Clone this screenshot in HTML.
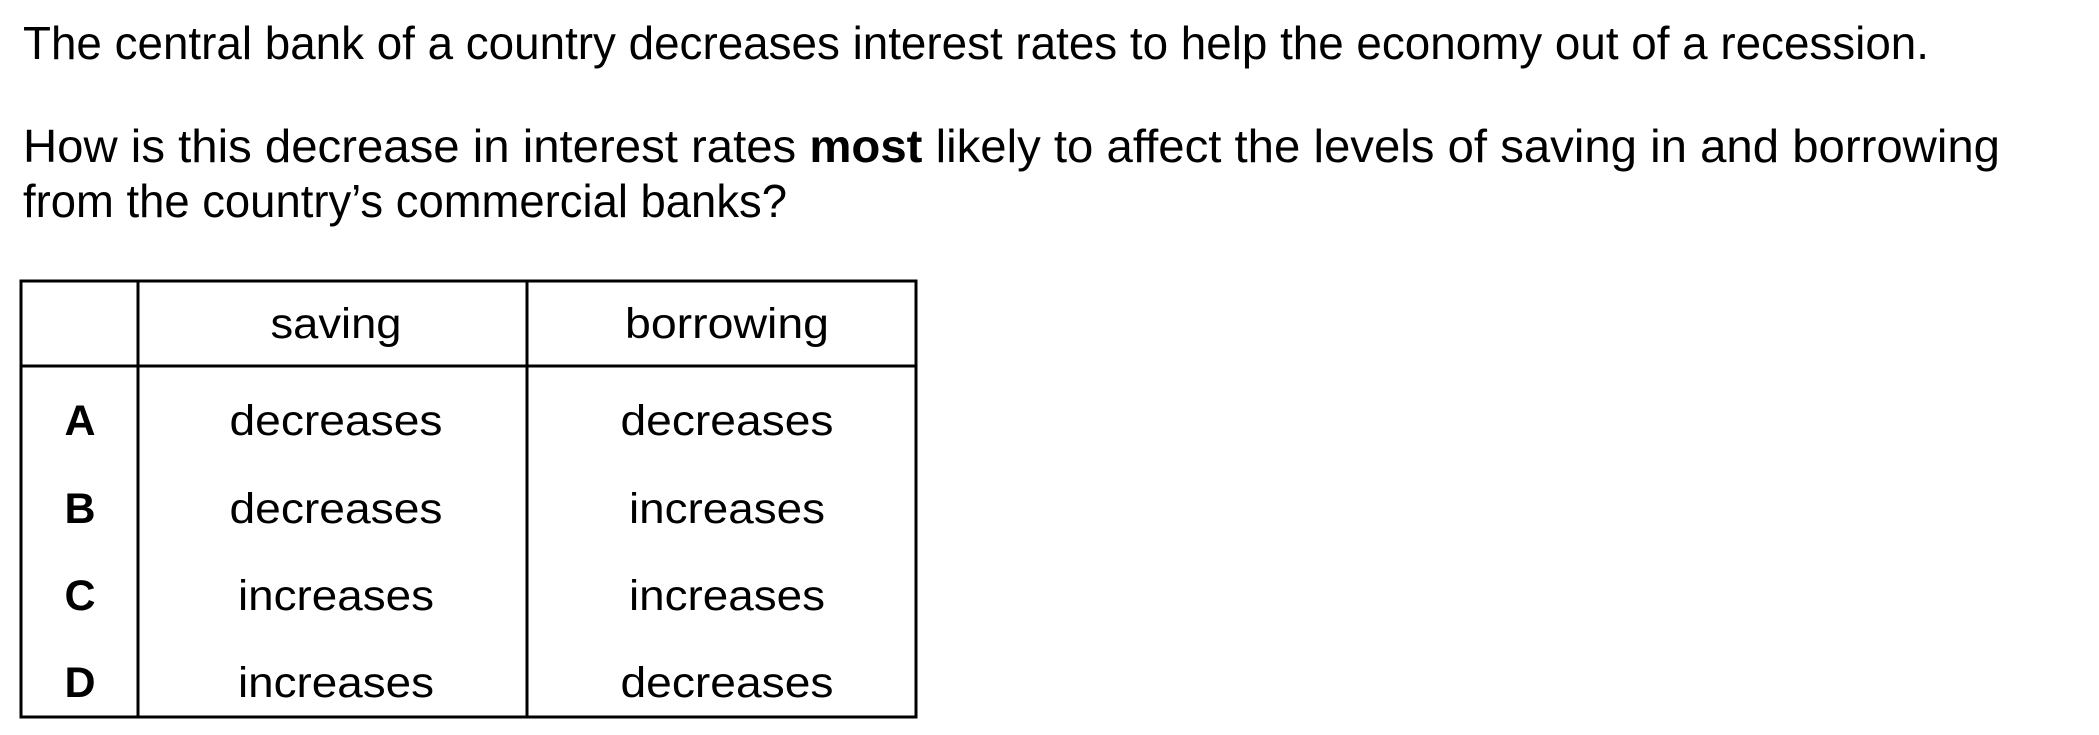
<!DOCTYPE html>
<html><head><meta charset="utf-8"><style>
html,body{margin:0;padding:0;background:#fff;width:2099px;height:735px;overflow:hidden}
svg{display:block}
text{font-family:"Liberation Sans",Arial,sans-serif;font-size:43px;fill:#000}
.q{font-size:46px}
</style></head><body>
<svg width="2099" height="735" viewBox="0 0 2099 735">
<text class="q" x="23" y="59" textLength="1906" lengthAdjust="spacingAndGlyphs">The central bank of a country decreases interest rates to help the economy out of a recession.</text>
<text class="q" x="23" y="162" textLength="1977" lengthAdjust="spacingAndGlyphs">How is this decrease in interest rates <tspan font-weight="bold">most</tspan> likely to affect the levels of saving in and borrowing</text>
<text class="q" x="23" y="217" textLength="764" lengthAdjust="spacingAndGlyphs">from the country’s commercial banks?</text>
<g stroke="#000" stroke-width="3" fill="none">
<rect x="21" y="281" width="895" height="436"/>
<line x1="21" y1="366" x2="916" y2="366"/>
<line x1="138" y1="281" x2="138" y2="717"/>
<line x1="527" y1="281" x2="527" y2="717"/>
</g>
<g text-anchor="middle">
<text x="336" y="338" textLength="131" lengthAdjust="spacingAndGlyphs">saving</text>
<text x="727" y="338" textLength="204" lengthAdjust="spacingAndGlyphs">borrowing</text>
<text x="80" y="435" font-weight="bold">A</text>
<text x="80" y="523" font-weight="bold">B</text>
<text x="80" y="610" font-weight="bold">C</text>
<text x="80" y="697" font-weight="bold">D</text>
<text x="336" y="435" textLength="213" lengthAdjust="spacingAndGlyphs">decreases</text>
<text x="727" y="435" textLength="213" lengthAdjust="spacingAndGlyphs">decreases</text>
<text x="336" y="523" textLength="213" lengthAdjust="spacingAndGlyphs">decreases</text>
<text x="727" y="523" textLength="196" lengthAdjust="spacingAndGlyphs">increases</text>
<text x="336" y="610" textLength="196" lengthAdjust="spacingAndGlyphs">increases</text>
<text x="727" y="610" textLength="196" lengthAdjust="spacingAndGlyphs">increases</text>
<text x="336" y="697" textLength="196" lengthAdjust="spacingAndGlyphs">increases</text>
<text x="727" y="697" textLength="213" lengthAdjust="spacingAndGlyphs">decreases</text>
</g>
</svg>
</body></html>
